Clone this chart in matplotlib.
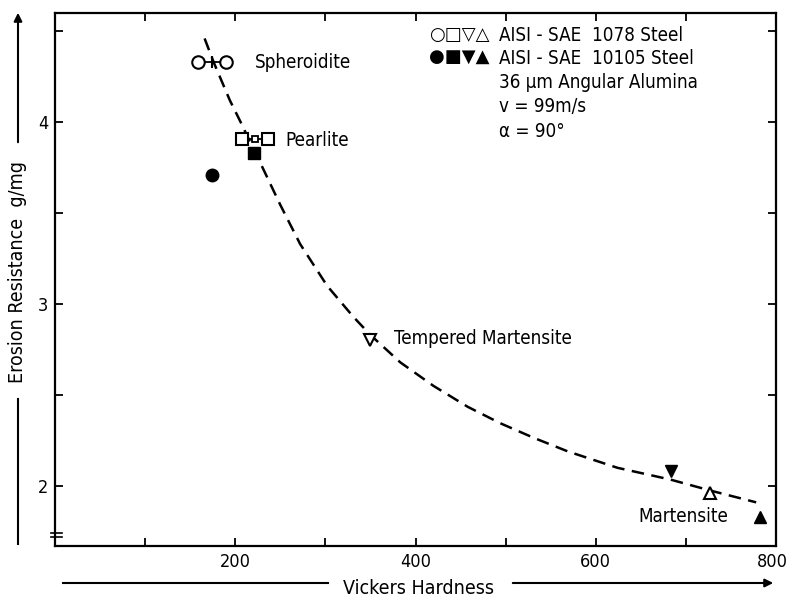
import matplotlib
matplotlib.use('Agg')
import matplotlib.pyplot as plt
from matplotlib.lines import Line2D
from matplotlib.transforms import ScaledTranslation

plt.rcParams['font.family'] = ['DejaVu Sans']
plt.rcParams['font.stretch'] = 'condensed'
plt.rcParams['font.size'] = 13.5

# dashed trend curve
curve_hv = [166, 176, 194, 206, 217, 226, 250, 272, 302, 331, 350, 383, 420,
            458, 494, 531, 569, 624, 683, 727, 778]
curve_er = [4.46, 4.33, 4.12, 4.00, 3.885, 3.795, 3.545, 3.33, 3.10, 2.93, 2.83,
            2.68, 2.55, 2.435, 2.345, 2.265, 2.19, 2.10, 2.035, 1.975, 1.91]

# AISI-SAE 1078 (open symbols)
sph_hv = [159, 190]
sph_er = [4.33, 4.33]
pea_hv = [208, 236]
pea_er = [3.91, 3.91]
tm_1078 = (349, 2.80)
m_1078 = (727, 1.96)

# AISI-SAE 10105 (filled symbols)
sph_10105 = (174, 3.71)
pea_10105 = (221, 3.83)
tm_10105 = (683, 2.08)
m_10105 = (782, 1.83)

legend_rows = ['AISI - SAE  1078 Steel', 'AISI - SAE  10105 Steel',
               '36 µm Angular Alumina', 'v = 99m/s', 'α = 90°']
legend_y = [4.478, 4.352, 4.22, 4.088, 3.95]

fig = plt.figure(figsize=(7.89, 5.96), dpi=100)
W, H = 789, 596
ax = fig.add_axes([55 / W, 1 - 546 / H, (776 - 55) / W, (546 - 13) / H])

ax.plot(curve_hv, curve_er, color='k', lw=1.8, dashes=(5, 3))

ms = 9
# spheroidite range bar
ax.plot(sph_hv, sph_er, color='k', lw=1.3)
ax.plot(sph_hv, sph_er, 'o', ms=ms, mfc='white', mec='k', mew=1.5)
ax.plot([sum(sph_hv) / 2], [sph_er[0]], '|', ms=8, mec='k', mew=1.5)
# pearlite range bar
ax.plot(pea_hv, pea_er, color='k', lw=1.3)
ax.plot(pea_hv, pea_er, 's', ms=ms, mfc='white', mec='k', mew=1.5)
ax.plot([sum(pea_hv) / 2], [pea_er[0]], 's', ms=5, mfc='white', mec='k', mew=1.3)

ax.plot(*tm_1078, 'v', ms=ms, mfc='white', mec='k', mew=1.5)
ax.plot(*m_1078, '^', ms=ms, mfc='white', mec='k', mew=1.5)

ax.plot(*sph_10105, 'o', ms=ms, color='k')
ax.plot(*pea_10105, 's', ms=ms, color='k')
ax.plot(*tm_10105, 'v', ms=ms, color='k')
ax.plot(*m_10105, '^', ms=ms, color='k')

# point labels
ax.text(222, 4.33, 'Spheroidite', va='center')
ax.text(256, 3.90, 'Pearlite', va='center')
ax.text(376, 2.81, 'Tempered Martensite', va='center')
ax.text(647, 1.83, 'Martensite', va='center')

# legend block
ax.text(415, legend_y[0], '○□▽△', va='center', fontsize=13, fontstretch='normal')
ax.text(415, legend_y[1], '●■▼▲', va='center', fontsize=13, fontstretch='normal')
for row, yy in zip(legend_rows, legend_y):
    ax.text(493, yy, row, va='center')

ax.set_xlim(0, 800)
ax.set_ylim(1.67, 4.6)
ax.set_xticks([200, 400, 600, 800])
ax.set_xticks([100, 300, 500, 700], minor=True)
ax.set_yticks([2, 3, 4])
ax.set_yticks([2.5, 3.5, 4.5], minor=True)
ax.tick_params(which='both', direction='in', top=True, right=True,
               length=6, width=1.3, labelsize=13, pad=5)
for s in ax.spines.values():
    s.set_linewidth(1.6)

# nudge the "800" label so it stays inside the picture
last = ax.get_xticklabels()[-1]
last.set_transform(last.get_transform() + ScaledTranslation(-4 / 100, 0, fig.dpi_scale_trans))

# axis break on the y axis
for yb in [0.016, 0.025]:
    ax.add_line(Line2D([-0.006, 0.01], [yb, yb], transform=ax.transAxes,
                       color='k', lw=1.2, clip_on=False))

# axis titles with their long lines and arrows
fig.text(419 / W, 1 - 588 / H, 'Vickers Hardness', ha='center', va='center', fontsize=14)
fig.add_artist(Line2D([63 / W, 328 / W], [1 - 583 / H] * 2, color='k', lw=1.5))
plt.annotate('', xy=(776 / W, 1 - 583 / H), xytext=(510 / W, 1 - 583 / H),
             xycoords='figure fraction',
             arrowprops=dict(arrowstyle='-|>', color='k', lw=1.5, mutation_scale=12))

fig.text(18 / W, 1 - 272 / H, 'Erosion Resistance  g/mg', rotation=90,
         ha='center', va='center', fontsize=14)
fig.add_artist(Line2D([18 / W] * 2, [1 - 399 / H, 1 - 544 / H], color='k', lw=1.5))
plt.annotate('', xy=(18 / W, 1 - 10 / H), xytext=(18 / W, 1 - 145 / H),
             xycoords='figure fraction',
             arrowprops=dict(arrowstyle='-|>', color='k', lw=1.5, mutation_scale=12))

fig.savefig('out.png', dpi=100)
